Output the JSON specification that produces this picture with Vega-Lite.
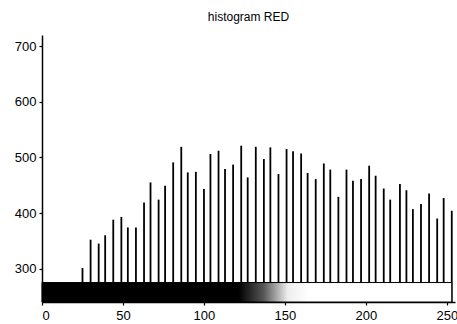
{
  "$schema": "https://vega.github.io/schema/vega-lite/v6.json",
  "autosize": {"type": "none"},
  "padding": {"left": 42, "top": 35, "right": 2, "bottom": 22},
  "width": 413,
  "height": 267,
  "title": {"text": "histogram RED", "fontSize": 12, "fontWeight": "normal", "font": "Liberation Sans", "color": "black", "offset": 11},
  "config": {
    "view": {"stroke": null},
    "axis": {"grid": false, "domainColor": "black", "tickColor": "black", "labelColor": "black", "labelFont": "Liberation Sans", "labelFontSize": 13, "domainWidth": 1.5, "tickWidth": 1.2}
  },
  "datasets": {
    "spikes": [
      {"bin": 25, "count": 301}, {"bin": 30, "count": 352}, {"bin": 35, "count": 345}, {"bin": 39, "count": 360},
      {"bin": 44, "count": 388}, {"bin": 49, "count": 393}, {"bin": 53, "count": 374}, {"bin": 58, "count": 374},
      {"bin": 63, "count": 419}, {"bin": 67, "count": 455}, {"bin": 72, "count": 424}, {"bin": 76, "count": 449},
      {"bin": 81, "count": 491}, {"bin": 86, "count": 519}, {"bin": 90, "count": 473}, {"bin": 95, "count": 474},
      {"bin": 100, "count": 443}, {"bin": 104, "count": 506}, {"bin": 109, "count": 512}, {"bin": 113, "count": 479},
      {"bin": 118, "count": 487}, {"bin": 123, "count": 521}, {"bin": 127, "count": 464}, {"bin": 132, "count": 519},
      {"bin": 137, "count": 497}, {"bin": 141, "count": 518}, {"bin": 146, "count": 470}, {"bin": 151, "count": 515},
      {"bin": 155, "count": 511}, {"bin": 160, "count": 507}, {"bin": 164, "count": 472}, {"bin": 169, "count": 461},
      {"bin": 174, "count": 489}, {"bin": 178, "count": 478}, {"bin": 183, "count": 429}, {"bin": 188, "count": 478},
      {"bin": 192, "count": 458}, {"bin": 197, "count": 461}, {"bin": 202, "count": 485}, {"bin": 206, "count": 467},
      {"bin": 211, "count": 444}, {"bin": 215, "count": 424}, {"bin": 221, "count": 452}, {"bin": 225, "count": 441},
      {"bin": 229, "count": 407}, {"bin": 234, "count": 416}, {"bin": 239, "count": 435}, {"bin": 244, "count": 390},
      {"bin": 248, "count": 427}, {"bin": 253, "count": 404}
    ],
    "band": [{"start": 0, "end": 253, "low": 240, "high": 275}]
  },
  "layer": [
    {
      "data": {"name": "spikes"},
      "mark": {"type": "rule", "color": "black", "strokeWidth": 1.8},
      "encoding": {
        "x": {"field": "bin", "type": "quantitative", "scale": {"domain": [0, 255], "nice": false, "zero": false}, "axis": {"title": null, "values": [0, 50, 100, 150, 200, 250], "tickSize": 3, "labelPadding": 4}},
        "y": {"field": "count", "type": "quantitative", "scale": {"domain": [240, 720], "nice": false, "zero": false}, "axis": {"title": null, "values": [300, 400, 500, 600, 700], "tickSize": 3, "labelPadding": 3}},
        "y2": {"datum": 240}
      }
    },
    {
      "data": {"name": "band"},
      "mark": {
        "type": "rect",
        "stroke": "black",
        "strokeWidth": 1,
        "fill": {"gradient": "linear", "x1": 0, "x2": 1, "y1": 0, "y2": 0,
          "stops": [
            {"offset": 0, "color": "black"},
            {"offset": 0.48, "color": "black"},
            {"offset": 0.54, "color": "#555555"},
            {"offset": 0.6, "color": "#eeeeee"},
            {"offset": 0.65, "color": "white"},
            {"offset": 1, "color": "white"}
          ]}
      },
      "encoding": {
        "x": {"field": "start", "type": "quantitative"},
        "x2": {"field": "end"},
        "y": {"field": "low", "type": "quantitative"},
        "y2": {"field": "high"}
      }
    }
  ]
}
